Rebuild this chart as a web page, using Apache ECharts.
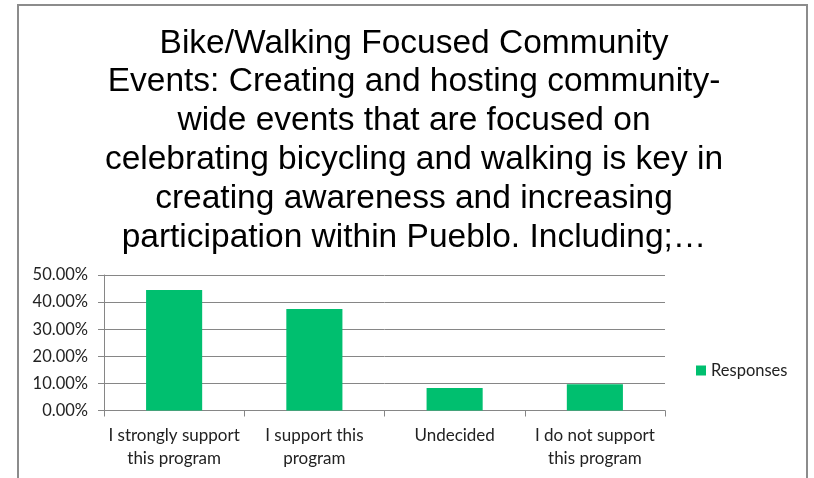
<!DOCTYPE html>
<html>
<head>
<meta charset="utf-8">
<script src="https://cdn.jsdelivr.net/npm/echarts@6/dist/echarts.min.js"></script>
<style>
  html, body { margin: 0; padding: 0; background: #fff; }
  #chart { width: 814px; height: 478px; }
</style>
</head>
<body>
<div id="chart"></div>
<script>
// Survey answers and their share of responses (percent)
const categories = [
  'I strongly support\nthis program',
  'I support this\nprogram',
  'Undecided',
  'I do not support\nthis program'
];
const responses = [44.44, 37.5, 8.33, 9.72];
const seriesName = 'Responses';
const titleLines = [
  'Bike/Walking Focused Community',
  'Events: Creating and hosting community-',
  'wide events that are focused on',
  'celebrating bicycling and walking is key in',
  'creating awareness and increasing',
  'participation within Pueblo. Including;\u2026'
];

const axisGray = '#868686';
const labelFont = 'Lato, "Open Sans", sans-serif';

const chart = echarts.init(document.getElementById('chart'));
chart.setOption({
  backgroundColor: '#ffffff',
  animation: false,
  title: {
    text: titleLines.join('\n'),
    left: 409,
    top: 19,
    textAlign: 'center',
    textStyle: {
      fontFamily: '"Liberation Sans", Arial, sans-serif',
      fontWeight: 'normal',
      fontSize: 33.5,
      lineHeight: 38.8,
      color: '#000000'
    }
  },
  graphic: [{
    type: 'rect',
    shape: { x: 18, y: 5, width: 789, height: 500 },
    style: { fill: 'none', stroke: '#8c8c8c', lineWidth: 2 },
    silent: true
  }],
  legend: {
    data: [seriesName],
    left: 691,
    top: 357,
    icon: 'rect',
    itemWidth: 10,
    itemHeight: 10,
    itemGap: 5,
    textStyle: { fontFamily: labelFont, fontSize: 16.5, color: '#222' }
  },
  grid: { left: 104, right: 149, top: 275, bottom: 67.5, containLabel: false },
  xAxis: {
    type: 'category',
    data: categories,
    axisLine: { show: true, lineStyle: { color: axisGray, width: 1 } },
    axisTick: { show: true, length: 6, lineStyle: { color: axisGray } },
    axisLabel: {
      interval: 0,
      margin: 14,
      fontFamily: labelFont,
      fontSize: 17,
      lineHeight: 23,
      color: '#222'
    }
  },
  yAxis: {
    type: 'value',
    min: 0,
    max: 50,
    interval: 10,
    axisLine: { show: true, lineStyle: { color: axisGray, width: 1 } },
    axisTick: { show: true, length: 6, lineStyle: { color: axisGray } },
    splitLine: { show: true, lineStyle: { color: axisGray, width: 1 } },
    axisLabel: {
      margin: 16,
      fontFamily: labelFont,
      fontSize: 16.5,
      color: '#222',
      formatter: v => v.toFixed(2) + '%'
    }
  },
  series: [{
    name: seriesName,
    type: 'bar',
    data: responses,
    barWidth: '40%',
    itemStyle: { color: '#00bf6f' }
  }]
});
</script>
</body>
</html>
